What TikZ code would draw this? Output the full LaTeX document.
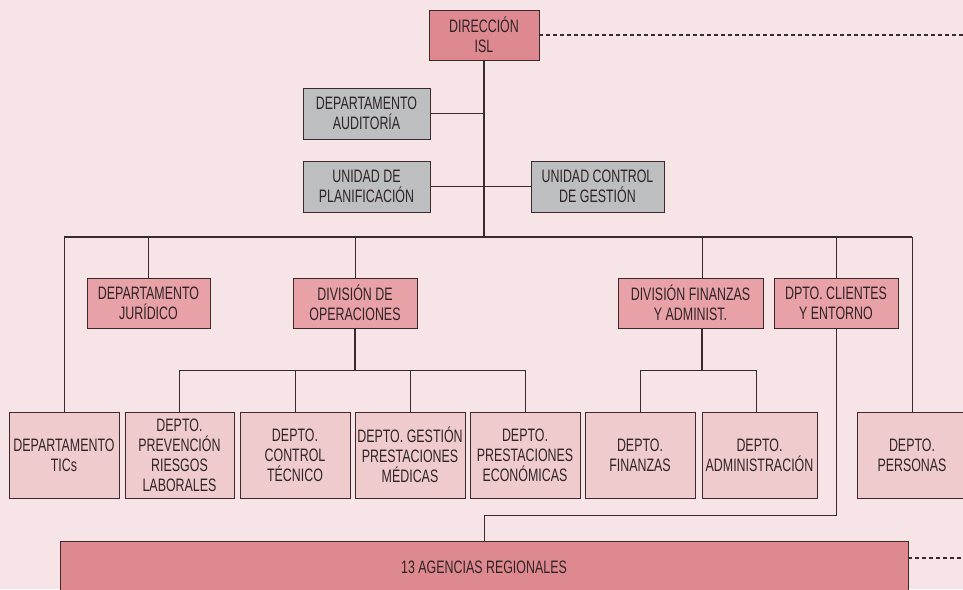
\documentclass[tikz,border=0pt]{standalone}
\usepackage{fontspec}
\setmainfont{Liberation Sans}[FakeStretch=0.69]
\definecolor{bg}{HTML}{F7E4E6}
\definecolor{dark}{HTML}{DE8990}
\definecolor{mid}{HTML}{E8A1A7}
\definecolor{light}{HTML}{F0CBCD}
\definecolor{grayb}{HTML}{BDBEC0}
\definecolor{ink}{HTML}{3A2A2C}
\definecolor{txt}{HTML}{2E2426}
\tikzset{
  box/.style={draw=ink, line width=0.9pt, rectangle, inner sep=0pt, align=center,
    text=txt, font=\fontsize{18}{20}\selectfont},
  topbox/.style={box, fill=dark, minimum width=110pt, minimum height=50pt},
  graybox/.style={box, fill=grayb, minimum height=51pt},
  midbox/.style={box, fill=mid, minimum height=50pt},
  lowbox/.style={box, fill=light, minimum width=110pt, minimum height=86pt},
  link/.style={draw=ink, line width=1pt},
  dashlink/.style={draw=ink, line width=1.2pt, dash pattern=on 4pt off 3pt},
}
\begin{document}
\begin{tikzpicture}[x=1pt, y=-1pt]
\useasboundingbox (0,0) rectangle (963,589);
\clip (0,0) rectangle (963,589);
\fill[bg] (0,0) rectangle (963,589);

\node[topbox] (dir) at (484,35) {DIRECCIÓN\\ISL};
\node[graybox, minimum width=127pt] (aud) at (366.5,113.5) {DEPARTAMENTO\\AUDITORÍA};
\node[graybox, minimum width=127pt] (plan) at (366.5,186.5) {UNIDAD DE\\PLANIFICACIÓN};
\node[graybox, minimum width=133pt] (ctrl) at (597.5,186.5) {UNIDAD CONTROL\\DE GESTIÓN};

\node[midbox, minimum width=123pt] (jur) at (148.5,303) {DEPARTAMENTO\\JURÍDICO};
\node[midbox, minimum width=124pt] (ops) at (355,303) {DIVISIÓN DE\\OPERACIONES};
\node[midbox, minimum width=145pt] (fin) at (690.5,303) {DIVISIÓN FINANZAS\\Y ADMINIST.};
\node[midbox, minimum width=124pt] (cli) at (836,303) {DPTO. CLIENTES\\Y ENTORNO};

\node[lowbox] (tics) at (64,455) {DEPARTAMENTO\\TICs};
\node[lowbox, minimum width=109pt] (prev) at (179.5,455) {DEPTO.\\PREVENCIÓN\\RIESGOS\\LABORALES};
\node[lowbox] (ctec) at (295,455) {DEPTO.\\CONTROL\\TÉCNICO};
\node[lowbox] (gest) at (410,455) {DEPTO. GESTIÓN\\PRESTACIONES\\MÉDICAS};
\node[lowbox] (econ) at (525,455) {DEPTO.\\PRESTACIONES\\ECONÓMICAS};
\node[lowbox] (dfin) at (640,455) {DEPTO.\\FINANZAS};
\node[lowbox, minimum width=115pt] (adm) at (759.5,455) {DEPTO.\\ADMINISTRACIÓN};
\node[lowbox] (pers) at (912,455) {DEPTO.\\PERSONAS};

\node[box, fill=dark, minimum width=848pt, minimum height=52pt] (ag) at (484,567) {13 AGENCIAS REGIONALES};

% coordinates
\coordinate (b0) at (484,237);
\coordinate (bl) at (64,237);
\coordinate (br) at (912,237);
\coordinate (ob) at (355,370);
\coordinate (fb) at (702,370);
\coordinate (cb) at (836,515);
\coordinate (ce) at (484,515);
\coordinate (dE) at (963,35);
\coordinate (aE) at (963,558);

% main spine
\draw[link, line width=1.3pt] (dir.south) -- (b0);
\draw[link] (aud.east) -- (aud.east -| b0);
\draw[link] (plan.east) -- (ctrl.west);
\draw[link, line width=1.3pt] (bl) -- (br);
\draw[link] (bl) -- (tics.north);
\draw[link] (jur.north |- b0) -- (jur.north);
\draw[link] (ops.north |- b0) -- (ops.north);
\draw[link] (702,237) -- (fin.north -| 702,0);
\draw[link] (cli.north |- b0) -- (cli.north);
\draw[link] (br) -- (pers.north);

% operations
\draw[link, line width=1.3pt] (ops.south) -- (ob);
\draw[link] (prev.north |- ob) -- (econ.north |- ob);
\foreach \n in {prev,ctec,gest,econ} \draw[link] (\n.north |- ob) -- (\n.north);

% finance
\draw[link, line width=1.3pt] (fin.south -| fb) -- (fb);
\draw[link] (dfin.north |- fb) -- (756,370);
\draw[link] (dfin.north |- fb) -- (dfin.north);
\draw[link] (756,370) -- (756,412);

% clients to agencies
\draw[link] (cli.south) -- (cb) -- (ce) -- (ag.north);

% dashed
\draw[dashlink] (dir.east) -- (dE);
\draw[dashlink] (ag.east |- aE) -- (aE);
\end{tikzpicture}
\end{document}
